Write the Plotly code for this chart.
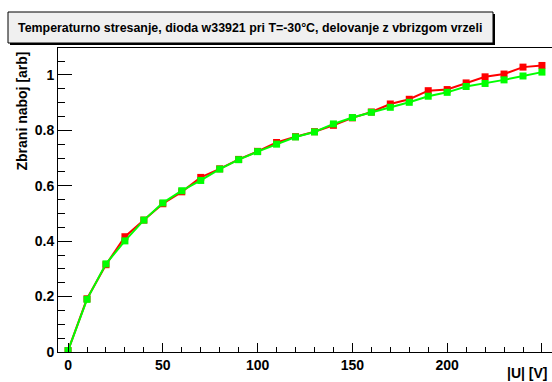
import plotly.graph_objects as go

voltage = [0, 10, 20, 30, 40, 50, 60, 70, 80, 90, 100, 110, 120, 130, 140, 150,
           160, 170, 180, 190, 200, 210, 220, 230, 240, 250]
charge_red = [0.005, 0.192, 0.315, 0.416, 0.476, 0.535, 0.578, 0.630, 0.661, 0.695,
              0.724, 0.756, 0.777, 0.795, 0.818, 0.845, 0.866, 0.895, 0.912, 0.943,
              0.947, 0.971, 0.993, 1.003, 1.028, 1.034]
charge_green = [0.005, 0.190, 0.318, 0.401, 0.476, 0.538, 0.582, 0.619, 0.660, 0.694,
                0.723, 0.750, 0.776, 0.794, 0.823, 0.846, 0.865, 0.883, 0.901, 0.923,
                0.937, 0.958, 0.969, 0.982, 0.996, 1.010]

title_text = "Temperaturno stresanje, dioda w33921 pri T=-30°C, delovanje z vbrizgom vrzeli"
y_title = "Zbrani naboj [arb]"
x_title = "|U| [V]"

W, H = 552, 382
L, R, T, B = 58, 0, 48, 30
pw, ph = W - L - R, H - T - B

def px(x):
    return (x - L) / pw

def py(y):
    return (H - B - y) / ph

font_family = "Liberation Sans, Arial, sans-serif"

fig = go.Figure()
fig.add_trace(go.Scatter(x=voltage, y=charge_red, mode="lines+markers",
                         line=dict(color="#ff0000", width=2),
                         marker=dict(symbol="square", size=7, color="#ff0000"),
                         showlegend=False))
fig.add_trace(go.Scatter(x=voltage, y=charge_green, mode="lines+markers",
                         line=dict(color="#00ff00", width=2),
                         marker=dict(symbol="square", size=7, color="#00ff00"),
                         showlegend=False))

tickfont = dict(family=font_family, size=14, color="black", weight="bold")

fig.update_xaxes(range=[-5.3, 255.3], tickvals=[0, 50, 100, 150, 200, 250],
                 ticks="inside", ticklen=9, tickwidth=1, tickcolor="black",
                 minor=dict(dtick=10, tick0=0, ticks="inside", ticklen=5, tickcolor="black"),
                 showline=True, linecolor="black", linewidth=1, mirror=True,
                 showgrid=False, zeroline=False, tickfont=tickfont)
fig.update_yaxes(range=[0, 1.097], tickvals=[0, 0.2, 0.4, 0.6, 0.8, 1],
                 ticktext=["0", "0.2", "0.4", "0.6", "0.8", "1"],
                 ticks="inside", ticklen=14, tickwidth=1, tickcolor="black",
                 minor=dict(dtick=0.05, tick0=0, ticks="inside", ticklen=7, tickcolor="black"),
                 showline=True, linecolor="black", linewidth=1, mirror=True,
                 showgrid=False, zeroline=False, tickfont=tickfont)

shapes = [
    # shadow
    dict(type="rect", xref="paper", yref="paper",
         x0=px(10), x1=px(495), y0=py(14), y1=py(45),
         fillcolor="black", line=dict(width=0), layer="above"),
    dict(type="rect", xref="paper", yref="paper",
         x0=px(8), x1=px(493), y0=py(12), y1=py(43),
         fillcolor="#f0f0f0", line=dict(color="black", width=1), layer="above"),
]

annotations = [
    dict(text=title_text, xref="paper", yref="paper", x=px(250), y=py(28),
         xanchor="center", yanchor="middle", showarrow=False,
         font=dict(family=font_family, size=12.4, color="black", weight="bold")),
    dict(text=y_title, xref="paper", yref="paper", x=px(22), y=py(50),
         xanchor="center", yanchor="top", textangle=-90, showarrow=False,
         font=dict(family=font_family, size=14, color="black", weight="bold")),
    dict(text=x_title, xref="paper", yref="paper", x=px(550), y=py(373),
         xanchor="right", yanchor="middle", showarrow=False,
         font=dict(family=font_family, size=14, color="black", weight="bold")),
]

fig.update_layout(width=W, height=H, margin=dict(l=L, r=R, t=T, b=B),
                  paper_bgcolor="white", plot_bgcolor="white",
                  shapes=shapes, annotations=annotations)

fig.write_html("out.html")
